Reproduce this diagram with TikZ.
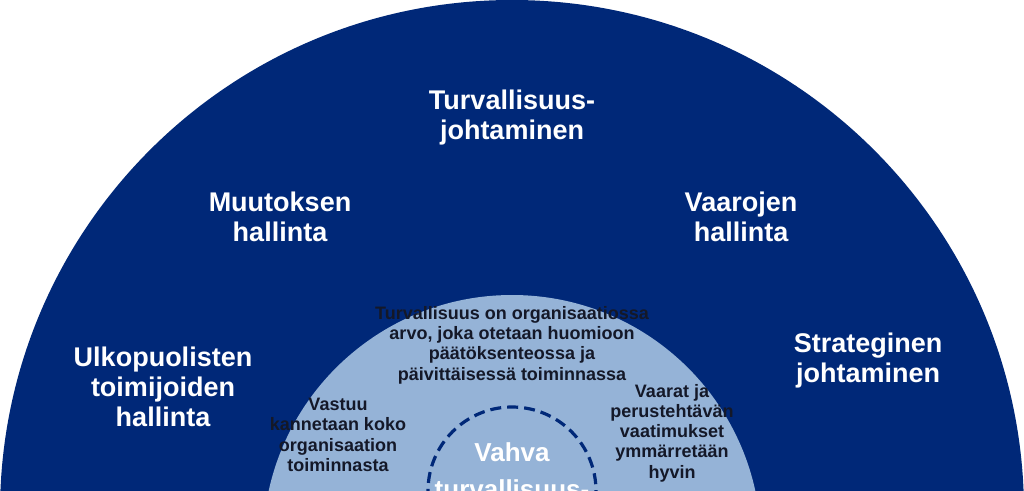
\documentclass[tikz,border=0pt]{standalone}
\usepackage{fontspec}
\setmainfont{Liberation Sans}
\definecolor{navy}{RGB}{0,40,120}
\definecolor{lightb}{RGB}{149,179,215}
\definecolor{ink}{RGB}{20,24,40}
\begin{document}
\begin{tikzpicture}[x=1pt,y=-1pt,
  outer/.style={text=white,font=\bfseries\fontsize{27}{30}\selectfont,align=center},
  inner/.style={text=ink,font=\bfseries\fontsize{18}{20.3}\selectfont,align=center},
  core/.style={text=white,font=\bfseries\fontsize{26}{37}\selectfont,align=center}]
\useasboundingbox (0,0) rectangle (1024,490);
\clip (0,0) rectangle (1024,490);
\fill[white] (0,0) rectangle (1024,490);
\fill[navy] (512,512) circle[radius=512];
\fill[lightb] (512,544) circle[radius=249];
\draw[navy,line width=3.2pt,dash pattern=on 11pt off 6pt] (512,491) circle[radius=84];
\node[outer] (t1) at (512,118) {Turvallisuus-\\johtaminen};
\node[outer] (t2) at (280,217) {Muutoksen\\hallinta};
\node[outer] (t3) at (741,217) {Vaarojen\\hallinta};
\node[outer] (t4) at (163,387) {Ulkopuolisten\\toimijoiden\\hallinta};
\node[outer] (t5) at (868,361) {Strateginen\\johtaminen};
\node[inner] (i1) at (512,345) {Turvallisuus on organisaatiossa\\arvo, joka otetaan huomioon\\päätöksenteossa ja\\päivittäisessä toiminnassa};
\node[inner] (i2) at (338,435) {Vastuu\\kannetaan koko\\organisaation\\toiminnasta};
\node[inner] (i3) at (672,433) {Vaarat ja\\perustehtävän\\vaatimukset\\ymmärretään\\hyvin};
\node[core] (c) at (512,471) {Vahva\\turvallisuus-};
\end{tikzpicture}
\end{document}
